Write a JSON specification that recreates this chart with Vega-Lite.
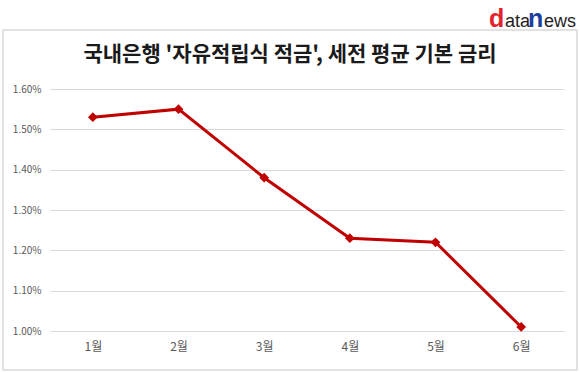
{
  "$schema": "https://vega.github.io/schema/vega-lite/v6.json",
  "width": 514,
  "height": 242,
  "autosize": "none",
  "padding": {"left": 50, "top": 89, "right": 16, "bottom": 42},
  "background": "white",
  "config": {
    "view": {"stroke": null},
    "font": "Noto Sans CJK KR",
    "axis": {"labelFont": "Noto Sans CJK KR"}
  },
  "data": {
    "values": [
      {"month": "1월", "rate": 0.0153},
      {"month": "2월", "rate": 0.0155},
      {"month": "3월", "rate": 0.0138},
      {"month": "4월", "rate": 0.0123},
      {"month": "5월", "rate": 0.0122},
      {"month": "6월", "rate": 0.0101}
    ]
  },
  "layer": [
    {
      "data": {"values": [{"k": 1}]},
      "mark": {"type": "rect", "fill": null, "stroke": "#d9d9d9", "strokeWidth": 1.5, "clip": false},
      "encoding": {
        "x": {"value": -47},
        "x2": {"value": 527},
        "y": {"value": -59},
        "y2": {"value": 281}
      }
    },
    {
      "data": {"values": [{"t": "국내은행 '자유적립식 적금', 세전 평균 기본 금리"}]},
      "mark": {"type": "text", "color": "#1a1a1a", "fontSize": 21, "fontWeight": "bold", "font": "Noto Sans CJK KR", "align": "center", "baseline": "middle", "clip": false},
      "encoding": {"text": {"field": "t"}, "x": {"value": 240}, "y": {"value": -34}}
    },
    {
      "mark": {"type": "line", "color": "#c00000", "strokeWidth": 3},
      "encoding": {
        "x": {
          "field": "month",
          "type": "ordinal",
          "sort": null,
          "scale": {"paddingInner": 0, "paddingOuter": 0.5},
          "axis": {
            "title": null,
            "labelAngle": 0,
            "labelColor": "#595959",
            "labelFontSize": 12,
            "labelPadding": 10,
            "domain": false,
            "ticks": false,
            "grid": false
          }
        },
        "y": {
          "field": "rate",
          "type": "quantitative",
          "scale": {"domain": [0.01, 0.016], "nice": false, "zero": false},
          "axis": {
            "title": null,
            "format": ".2%",
            "values": [0.01, 0.011, 0.012, 0.013, 0.014, 0.015, 0.016],
            "labelColor": "#595959",
            "labelFontSize": 10,
            "labelPadding": 9,
            "domain": false,
            "ticks": false,
            "gridColor": "#d9d9d9",
            "gridWidth": 1
          }
        }
      }
    },
    {
      "mark": {"type": "point", "shape": "diamond", "filled": true, "color": "#c00000", "size": 95, "opacity": 1},
      "encoding": {
        "x": {"field": "month", "type": "ordinal", "sort": null},
        "y": {"field": "rate", "type": "quantitative"}
      }
    },
    {
      "data": {"values": [{"t": "d"}]},
      "mark": {"type": "text", "color": "#e3232c", "fontSize": 25, "fontWeight": "bold", "font": "Liberation Sans", "align": "left", "baseline": "alphabetic", "clip": false},
      "encoding": {"text": {"field": "t"}, "x": {"value": 439}, "y": {"value": -62}}
    },
    {
      "data": {"values": [{"t": "ata"}]},
      "mark": {"type": "text", "color": "#1e1e1e", "fontSize": 18, "font": "Liberation Sans", "align": "left", "baseline": "alphabetic", "clip": false},
      "encoding": {"text": {"field": "t"}, "x": {"value": 455}, "y": {"value": -62}}
    },
    {
      "data": {"values": [{"t": "n"}]},
      "mark": {"type": "text", "color": "#1d3f9e", "fontSize": 25, "fontWeight": "bold", "font": "Liberation Sans", "align": "left", "baseline": "alphabetic", "clip": false},
      "encoding": {"text": {"field": "t"}, "x": {"value": 478}, "y": {"value": -62}}
    },
    {
      "data": {"values": [{"t": "ews"}]},
      "mark": {"type": "text", "color": "#1e1e1e", "fontSize": 18, "font": "Liberation Sans", "align": "left", "baseline": "alphabetic", "clip": false},
      "encoding": {"text": {"field": "t"}, "x": {"value": 494}, "y": {"value": -62}}
    }
  ]
}
